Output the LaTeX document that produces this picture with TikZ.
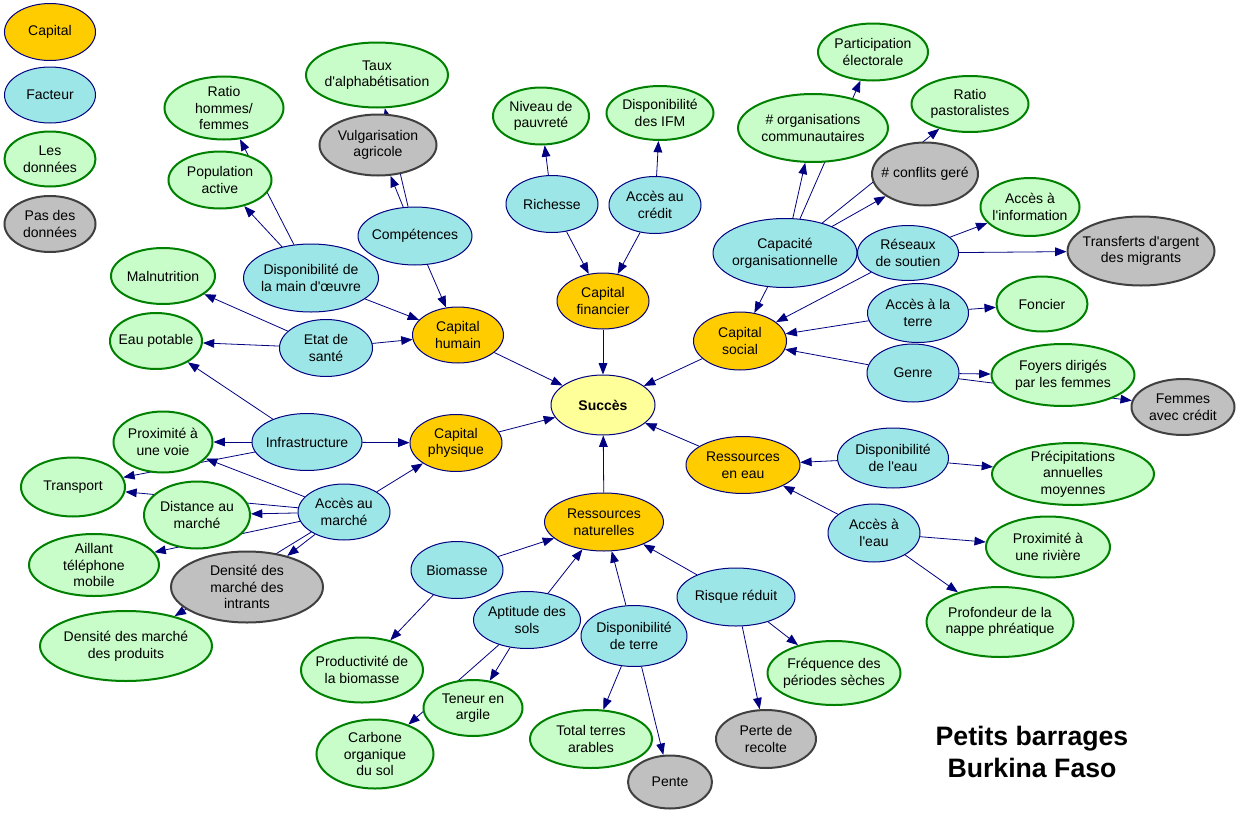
\documentclass[tikz,border=0pt]{standalone}
\usepackage{fontspec}
\newfontfamily\lsans{Liberation Sans}
\usetikzlibrary{shapes.geometric,arrows.meta}
\definecolor{capfill}{HTML}{FFCC00}
\definecolor{facfill}{HTML}{9DE6E8}
\definecolor{datfill}{HTML}{C8FCC8}
\definecolor{datdraw}{HTML}{008000}
\definecolor{nofill}{HTML}{C0C0C0}
\definecolor{nodraw}{HTML}{404040}
\definecolor{navy}{HTML}{000080}
\definecolor{sucfill}{HTML}{FFFF99}
\newcommand\nfont{\lsans\fontsize{10.5}{12.5}\selectfont}
\pgfdeclarelayer{bg}
\pgfsetlayers{bg,main}
\tikzset{
 base/.style={ellipse, inner xsep=-14pt, inner ysep=-8pt, align=center, font=\nfont, text=black},
 capnode/.style={base, fill=capfill, draw=navy, line width=0.75pt},
 sucnode/.style={base, fill=sucfill, draw=navy, line width=0.75pt, font=\nfont\bfseries},
 facnode/.style={base, fill=facfill, draw=navy, line width=0.75pt},
 datnode/.style={base, fill=datfill, draw=datdraw, line width=1.5pt},
 nonode/.style={base, fill=nofill, draw=nodraw, line width=1.5pt},
 sz/.style 2 args={minimum width=#1*0.75pt, minimum height=#2*0.75pt},
 conn/.style={draw=navy, line width=0.6pt, -{Triangle[length=8.5pt,width=6.5pt]}},
}
\begin{document}
\begin{tikzpicture}[x=0.75pt,y=-0.75pt]
\useasboundingbox (0,0) rectangle (1240,814);
% legend
\node[capnode,sz={91}{57}] (leg1) at (50,32) {Capital};
\node[facnode,sz={91}{56}] (leg2) at (50,95) {Facteur};
\node[datnode,sz={91}{55}] (leg3) at (50,159) {Les\\données};
\node[nonode,sz={91}{56}] (leg4) at (50,224) {Pas des\\données};
% capitals
\node[sucnode,sz={104}{60}] (suc) at (603,405) {Succès};
\node[capnode,sz={91}{56}] (ch) at (458,335) {Capital\\humain};
\node[capnode,sz={92}{57}] (cp) at (456,443) {Capital\\physique};
\node[capnode,sz={92}{56}] (cf) at (603,301) {Capital\\financier};
\node[capnode,sz={93}{58}] (cs) at (740,341) {Capital\\social};
\node[capnode,sz={114}{57}] (re) at (743,465) {Ressources\\en eau};
\node[capnode,sz={119}{58}] (rn) at (604,522) {Ressources\\naturelles};
% factors
\node[facnode,sz={92}{57}] (rich) at (552,204) {Richesse};
\node[facnode,sz={92}{57}] (cred) at (655,205) {Accès au\\crédit};
\node[facnode,sz={114}{58}] (comp) at (415,236) {Compétences};
\node[facnode,sz={135}{68}] (dmo) at (311,278) {Disponibilité de\\la main d'œuvre};
\node[facnode,sz={93}{57}] (sante) at (326,348) {Etat de\\santé};
\node[facnode,sz={110}{57}] (infra) at (307,442) {Infrastructure};
\node[facnode,sz={92}{56}] (marche) at (344,512) {Accès au\\marché};
\node[facnode,sz={92}{57}] (bio) at (457,570) {Biomasse};
\node[facnode,sz={107}{57}] (apt) at (527,620) {Aptitude des\\sols};
\node[facnode,sz={106}{61}] (dterre) at (634,636) {Disponibilité\\de terre};
\node[facnode,sz={118}{58}] (risque) at (736,597) {Risque réduit};
\node[facnode,sz={111}{60}] (deau) at (893,458) {Disponibilité\\de l'eau};
\node[facnode,sz={92}{58}] (aeau) at (874,533) {Accès à\\l'eau};
\node[facnode,sz={144}{69}] (capo) at (785,253) {Capacité\\organisationnelle};
\node[facnode,sz={101}{55}] (reseau) at (908,253) {Réseaux\\de soutien};
\node[facnode,sz={101}{59}] (aterre) at (918,313) {Accès à la\\terre};
\node[facnode,sz={92}{58}] (genre) at (913,373) {Genre};
% data
\node[datnode,sz={119}{63}] (ratio) at (224,108) {Ratio\\hommes/\\femmes};
\node[datnode,sz={103}{57}] (popact) at (220,180) {Population\\active};
\node[datnode,sz={142}{65}] (taux) at (377,75) {Taux\\d'alphabétisation};
\node[nonode,sz={117}{61}] (vulg) at (378,145) {Vulgarisation\\agricole};
\node[datnode,sz={104}{56}] (malnut) at (163,276) {Malnutrition};
\node[datnode,sz={92}{56}] (eaupot) at (156,341) {Eau potable};
\node[datnode,sz={99}{61}] (proxv) at (163,442) {Proximité à\\une voie};
\node[datnode,sz={104}{59}] (transp) at (73,487) {Transport};
\node[datnode,sz={106}{67}] (dist) at (197,515) {Distance au\\marché};
\node[datnode,sz={130}{62}] (aill) at (94,565) {Aillant\\téléphone\\mobile};
\node[nonode,sz={152}{71}] (dint) at (247,587) {Densité des\\marché des\\intrants};
\node[datnode,sz={172}{70}] (dprod) at (126,646) {Densité des marché\\des produits};
\node[datnode,sz={122}{65}] (prodb) at (362,670) {Productivité de\\la biomasse};
\node[datnode,sz={117}{69}] (carb) at (375,754) {Carbone\\organique\\du sol};
\node[datnode,sz={99}{56}] (argile) at (473,708) {Teneur en\\argile};
\node[datnode,sz={122}{58}] (tterres) at (591,739) {Total terres\\arables};
\node[nonode,sz={84}{53}] (pente) at (670,782) {Pente};
\node[nonode,sz={100}{58}] (perte) at (766,739) {Perte de\\recolte};
\node[datnode,sz={133}{64}] (freq) at (834,673) {Fréquence des\\périodes sèches};
\node[datnode,sz={147}{70}] (prof) at (1000,622) {Profondeur de la\\nappe phréatique};
\node[datnode,sz={124}{61}] (proxr) at (1048,547) {Proximité à\\une rivière};
\node[datnode,sz={162}{62}] (precip) at (1073,474) {Précipitations\\annuelles\\moyennes};
\node[nonode,sz={103}{56}] (femcred) at (1183,407) {Femmes\\avec crédit};
\node[datnode,sz={143}{62}] (foyers) at (1063,375) {Foyers dirigés\\par les femmes};
\node[datnode,sz={91}{55}] (foncier) at (1042,304) {Foncier};
\node[nonode,sz={147}{69}] (transf) at (1141,251) {Transferts d'argent\\des migrants};
\node[datnode,sz={99}{58}] (ainfo) at (1030,207) {Accès à\\l'information};
\node[nonode,sz={106}{63}] (confl) at (925,174) {\# conflits geré};
\node[datnode,sz={117}{56}] (rpast) at (970,104) {Ratio\\pastoralistes};
\node[datnode,sz={110}{57}] (partic) at (873,52) {Participation\\électorale};
\node[datnode,sz={150}{68}] (orgs) at (813,128) {\# organisations\\communautaires};
\node[datnode,sz={96}{57}] (pauv) at (541,116) {Niveau de\\pauvreté};
\node[datnode,sz={107}{54}] (ifm) at (660,113) {Disponibilité\\des IFM};
% title
\node[font=\lsans\bfseries\fontsize{20}{24}\selectfont, align=center] (title) at (1032,752) {Petits barrages\\Burkina Faso};
% connectors
\begin{pgfonlayer}{bg}
\foreach \a/\b in {ch/suc, cp/suc, cf/suc, cs/suc, re/suc, rn/suc,
  rich/cf, rich/pauv, cred/cf, cred/ifm,
  comp/ch, comp/vulg, comp/taux,
  dmo/ch, dmo/popact, dmo/ratio,
  sante/ch, sante/malnut, sante/eaupot,
  infra/cp, infra/proxv, infra/eaupot, infra/transp,
  marche/cp, marche/proxv, marche/transp, marche/dist, marche/aill, marche/dint, marche/dprod,
  bio/rn, bio/prodb, apt/rn, apt/argile, apt/carb,
  dterre/rn, dterre/tterres, dterre/pente,
  risque/rn, risque/perte, risque/freq,
  deau/re, deau/precip, aeau/re, aeau/proxr, aeau/prof,
  capo/cs, capo/orgs, capo/partic, capo/confl, capo/rpast,
  reseau/cs, reseau/ainfo, reseau/transf,
  aterre/cs, aterre/foncier,
  genre/cs, genre/foyers, genre/femcred}
  \draw[conn] (\a) -- (\b);
\end{pgfonlayer}
\end{tikzpicture}
\end{document}
